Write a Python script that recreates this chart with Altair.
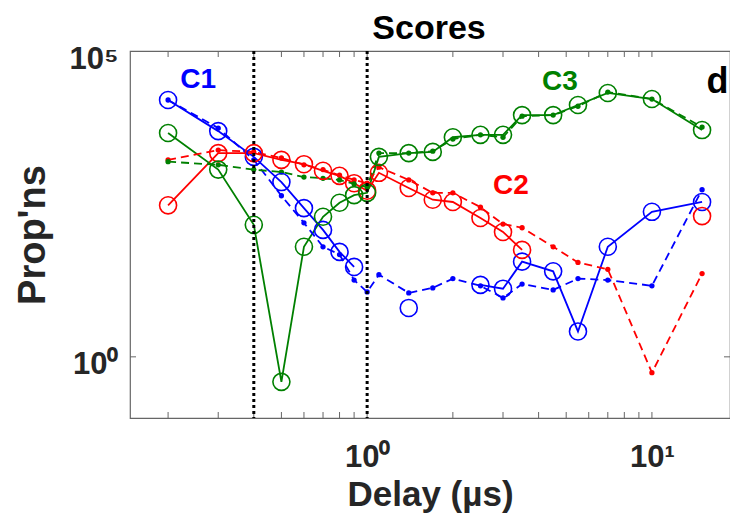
import pandas as pd
import altair as alt

# delay values (µs) shared by every series
delay = [0.2, 0.3, 0.4, 0.5, 0.6, 0.7, 0.8, 0.9, 1.0, 1.1, 1.4, 1.7, 2.0,
         2.5, 3.0, 3.5, 4.5, 5.5, 7, 10, 15]

# solid line + open circles; None = no point (gap in the line)
c1_solid = [15800, 4900, 1860, 720, 270, 119, 52, 29.5, None, None, 6.3, None, None,
            15, 13, 36, 25, 2.6, 63, 235, 340]
c2_solid = [300, 2140, 2140, 1660, 1410, 1100, 910, 690, 520, 1020, 575, 370, 340,
            186, 110, 56, None, None, None, None, 200]
c3_solid = [4570, 1150, 144, 0.39, 63, 195, 330, 440, 480, 1860, 2140, 2240, 3890,
            4260, 4260, 8950, 8950, 13100, 20600, 16400, 5100]

# dashed line + small dots
c1_dashed = [15800, 5500, 1660, 430, 155, 63, 47, 18, 11.5, 22, 11.1, 13.4, 19,
             14.5, 9.2, 15.5, 12.4, 19, 18, 14.5, 540]
c2_dashed = [1660, 2400, 2240, 1780, 1380, 1150, 930, 780, 690, 1260, 780, 480, 480,
             280, 148, 129, 63, 35, 27, 0.55, 23]
c3_dashed = [1550, 1380, 1150, 1050, 870, 830, 780, 670, 600, 2140, 2140, 2300, 3630,
             4260, 3890, 8600, 8950, 12500, 21300, 16400, 5700]

series_names = ["C1", "C2", "C3"]
series_colors = ["#0000ff", "#ff0000", "#008000"]

vlines = [0.4, 1.0]
x_minor = [0.2, 0.3, 0.4, 0.5, 0.6, 0.7, 0.8, 0.9, 1, 2, 3, 4, 5, 6, 7, 8, 9, 10]
y_minor = [1]

# annotation labels (data coordinates)
ann_text = ["C1", "C2", "C3", "d"]
ann_x = [0.255, 3.2, 4.75, 17.0]
ann_y = [33000, 620, 31000, 31000]
ann_color = ["#0000ff", "#ff0000", "#008000", "#000000"]
ann_size = [28, 28, 28, 36]

FONT = "Liberation Sans, Arial, sans-serif"
W, H = 600, 367

rows = []
for name, style, vals in [
    ("C1", "solid", c1_solid), ("C1", "dashed", c1_dashed),
    ("C2", "solid", c2_solid), ("C2", "dashed", c2_dashed),
    ("C3", "solid", c3_solid), ("C3", "dashed", c3_dashed),
]:
    seg, gap = 0, True
    for d, v in zip(delay, vals):
        if v is None:
            gap = True
            continue
        if gap:
            seg += 1
            gap = False
        rows.append({"delay": d, "value": v, "series": name, "style": style,
                     "seg": f"{name}-{style}-{seg}"})
df = pd.DataFrame(rows)

xscale = alt.Scale(type="log", domain=[0.147, 18.8], nice=False)
yscale = alt.Scale(type="log", domain=[0.1, 100000], nice=False)
color = alt.Color("series:N", scale=alt.Scale(domain=series_names, range=series_colors), legend=None)

x_enc = alt.X("delay:Q", scale=xscale, axis=alt.Axis(
    values=[1, 10], labelExpr="datum.value == 1 ? '10⁰' : '10¹'",
    title="Delay (µs)", grid=False, ticks=False, domain=False,
    labelFont=FONT, labelFontSize=31, labelFontWeight="bold", labelColor="#262626",
    labelPadding=24, titleFont=FONT, titleFontSize=35, titleFontWeight="bold",
    titleColor="#262626", titleBaseline="alphabetic", titleY=87))
y_enc = alt.Y("value:Q", scale=yscale, axis=alt.Axis(
    values=[1, 100000], labelExpr="datum.value == 1 ? '10⁰' : '10⁵'",
    title="Prop'ns", grid=False, ticks=False, domain=False,
    labelFont=FONT, labelFontSize=31, labelFontWeight="bold", labelColor="#262626",
    labelPadding=12, labelOffset=8, titleFont=FONT, titleFontSize=38, titleFontWeight="bold",
    titleColor="#262626", titleBaseline="alphabetic", titleX=-86))

base = alt.Chart(df)

solid_lines = base.transform_filter(alt.datum.style == "solid").mark_line(strokeWidth=1.8).encode(
    x=x_enc, y=y_enc, color=color, detail="seg:N")
dashed_lines = base.transform_filter(alt.datum.style == "dashed").mark_line(
    strokeWidth=1.8, strokeDash=[8, 5]).encode(x=x_enc, y=y_enc, color=color, detail="seg:N")
circles = base.transform_filter(alt.datum.style == "solid").mark_point(
    shape="circle", filled=False, size=290, strokeWidth=1.6, opacity=1).encode(
    x=x_enc, y=y_enc, color=color)
dots = base.transform_filter(alt.datum.style == "dashed").mark_point(
    shape="circle", filled=True, size=28, opacity=1).encode(x=x_enc, y=y_enc, color=color)

dotted = alt.Chart(pd.DataFrame({"delay": vlines})).mark_rule(
    color="black", strokeWidth=3, strokeDash=[3, 3]).encode(x=x_enc)

tick_df = pd.DataFrame({"delay": x_minor})
ticks_bottom = alt.Chart(tick_df).mark_rule(color="#666666", strokeWidth=1).encode(
    x=x_enc, y=alt.value(H), y2=alt.value(H - 6))
ticks_top = alt.Chart(tick_df).mark_rule(color="#666666", strokeWidth=1).encode(
    x=x_enc, y=alt.value(0), y2=alt.value(6))
ytick_df = pd.DataFrame({"value": y_minor})
ticks_left = alt.Chart(ytick_df).mark_rule(color="#666666", strokeWidth=1).encode(
    y=y_enc, x=alt.value(0), x2=alt.value(6))
ticks_right = alt.Chart(ytick_df).mark_rule(color="#666666", strokeWidth=1).encode(
    y=y_enc, x=alt.value(W), x2=alt.value(W - 6))

ann_df = pd.DataFrame({"delay": ann_x, "value": ann_y, "text": ann_text,
                       "color": ann_color, "size": ann_size})
labels = alt.Chart(ann_df).mark_text(font=FONT, fontWeight="bold", align="center",
                                     baseline="middle").encode(
    x=x_enc, y=y_enc, text="text:N",
    color=alt.Color("color:N", scale=None),
    size=alt.Size("size:Q", scale=None))

# chart title drawn as a text mark just above the frame
title = alt.Chart(pd.DataFrame({"t": ["Scores"]})).mark_text(
    font=FONT, fontSize=34, fontWeight="bold", color="black",
    align="center", baseline="alphabetic").encode(
    text="t:N", x=alt.value(W / 2 - 1), y=alt.value(-12))

chart = alt.layer(
    solid_lines, ticks_bottom, ticks_top, ticks_left, ticks_right,
    dashed_lines, dots, circles, dotted, labels, title
).properties(
    width=W, height=H,
    padding={"left": 122, "top": 43, "right": 0, "bottom": 96},
    autosize=alt.AutoSizeParams(type="none"),
).configure_view(stroke="#666666", strokeWidth=1.2)

chart.save("out.html", embed_options={"renderer": "svg", "actions": False})
